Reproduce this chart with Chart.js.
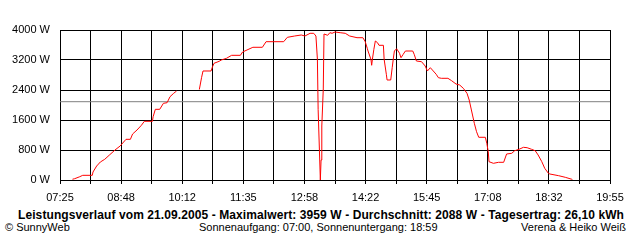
<!DOCTYPE html>
<html>
<head>
<meta charset="utf-8">
<script src="https://cdn.jsdelivr.net/npm/chart.js@4.4.1/dist/chart.umd.min.js"></script>
<style>
  html, body { margin: 0; padding: 0; background: #fff; }
  #wrap { position: relative; width: 640px; height: 240px; overflow: hidden; background: #fff; }
  #c { position: absolute; left: 0; top: 0; }
  .t { position: absolute; font-family: "Liberation Sans", Arial, sans-serif; color: #000; white-space: nowrap; }
  #title { left: 18px; top: 208px; font-size: 12px; font-weight: bold; line-height: 14px; }
  .foot { top: 221px; font-size: 11px; line-height: 13px; }
  #f1 { left: 5px; }
  #f2 { left: 199px; }
  #f3 { right: 14px; }
</style>
</head>
<body>
<div id="wrap">
  <canvas id="c" width="640" height="206" style="width:640px;height:206px"></canvas>
  <div id="title" class="t">Leistungsverlauf vom 21.09.2005 - Maximalwert: 3959 W - Durchschnitt: 2088 W - Tagesertrag: 26,10 kWh</div>
  <div id="f1" class="t foot">© SunnyWeb</div>
  <div id="f2" class="t foot">Sonnenaufgang: 07:00, Sonnenuntergang: 18:59</div>
  <div id="f3" class="t foot">Verena &amp; Heiko Weiß</div>
</div>
<script>
const times = ['07:42','07:45','07:52','07:56','08:09','08:10','08:15','08:20','08:26','08:32',
  '08:40','08:47','08:55','09:01','09:04','09:10','09:16','09:20','09:31','09:32',
  '09:35','09:41','09:46','09:51','09:55','10:00','10:04','10:20','10:35','10:38',
  '10:40','10:51','10:53','10:55','11:02','11:05','11:12','11:19','11:31','11:34',
  '11:40','11:48','12:01','12:06','12:30','12:35','12:45','12:54','12:59','13:06',
  '13:11','13:14','13:16','13:17','13:19','13:20','13:21','13:22','13:24','13:25',
  '13:30','13:33','13:36','13:40','13:47','13:54','14:00','14:10','14:18','14:21',
  '14:24','14:25','14:29','14:30','14:31','14:33','14:35','14:38','14:40','14:46',
  '14:47','14:50','14:51','14:56','14:58','15:00','15:01','15:04','15:08','15:10',
  '15:13','15:16','15:26','15:28','15:31','15:38','15:43','15:46','15:50','15:54',
  '15:58','16:01','16:05','16:14','16:19','16:25','16:30','16:35','16:40','16:43',
  '16:46','16:50','16:53','16:56','17:05','17:07','17:09','17:10','17:16','17:23',
  '17:30','17:34','17:41','17:45','17:51','17:57','18:02','18:08','18:13','18:17',
  '18:22','18:26','18:31','18:33','18:45','18:54','19:03','19:04'];

const watts = [20,35,88,125,125,213,373,480,552,659,
  800,907,1085,1085,1227,1333,1459,1565,1565,1688,
  1885,1885,2045,2061,2221,2312,2373,null,2413,2728,
  2907,2907,3021,3112,3165,3200,3245,3325,3325,3413,
  3467,3539,3539,3688,3688,3805,3840,3867,3840,3912,
  3912,3840,3219,1885,640,0,533,1440,2427,3893,
  3859,3928,3912,3947,3928,3912,3840,3795,3795,3699,
  3512,3440,3219,3059,3219,3485,3707,3661,3592,3592,
  3219,2819,2667,2667,2995,3307,3440,3501,3379,3261,
  3352,3440,3440,3352,3173,3155,3040,2907,2995,2907,
  2819,2728,2712,2712,2648,2560,2533,2445,2312,2133,
  1867,1512,1288,1139,1139,979,755,488,445,472,
  472,693,712,781,819,872,861,819,781,667,
  488,312,179,160,115,72,19,0];

const averageW = 2088;
const xTickLabels = ['07:25','08:48','10:12','11:35','12:58','14:22','15:45','17:08','18:32','19:55'];
const yTickValues = [0, 800, 1600, 2400, 3200, 4000];

function toMin(s) { const p = s.split(':'); return (+p[0]) * 60 + (+p[1]); }
const xMin = toMin(xTickLabels[0]);
const xMax = toMin(xTickLabels[xTickLabels.length - 1]);
const gridCount = (xTickLabels.length - 1) * 2;

const lineData = times.map((t, i) => ({ x: toMin(t), y: watts[i] }));
const avgData = [{ x: xMin, y: averageW }, { x: xMax, y: averageW }];

const FONT = { family: '"Liberation Sans", Arial, sans-serif', size: 11 };

// stretch the bold title to the reference width
(function () {
  const el = document.getElementById('title');
  const target = 606;
  const w = el.getBoundingClientRect().width;
  const n = el.textContent.length;
  el.style.letterSpacing = ((target - w) / n).toFixed(3) + 'px';
})();

new Chart(document.getElementById('c'), {
  type: 'line',
  data: {
    datasets: [
      { data: lineData, borderColor: '#ff0000', borderWidth: 1, pointRadius: 0, tension: 0, spanGaps: false, fill: false },
      { data: avgData, borderColor: '#808080', borderWidth: 1, pointRadius: 0, tension: 0, fill: false }
    ]
  },
  options: {
    responsive: false,
    animation: false,
    devicePixelRatio: 1,
    layout: { padding: { left: 0, right: 30, top: 30, bottom: 0 } },
    plugins: { legend: { display: false }, tooltip: { enabled: false }, title: { display: false } },
    scales: {
      x: {
        type: 'linear',
        min: xMin,
        max: xMax,
        afterBuildTicks: s => {
          s.ticks = Array.from({ length: gridCount + 1 }, (_, i) => ({ value: xMin + i * (xMax - xMin) / gridCount }));
        },
        afterFit: s => { s.height = 26; },
        ticks: {
          autoSkip: false, maxRotation: 0, minRotation: 0, color: '#000', font: FONT, padding: 7,
          callback: (v, i) => (i % 2 === 0 ? xTickLabels[i / 2] : '')
        },
        grid: { color: '#000', lineWidth: 1, tickLength: 4, drawTicks: true },
        border: { display: true, color: '#000', width: 1 }
      },
      y: {
        min: 0,
        max: 4000,
        afterBuildTicks: s => { s.ticks = yTickValues.map(v => ({ value: v })); },
        afterFit: s => { s.width = 60; },
        ticks: { color: '#000', font: FONT, padding: 10, callback: v => v + ' W' },
        grid: { color: '#000', lineWidth: 1, drawTicks: false },
        border: { display: true, color: '#000', width: 1 }
      }
    }
  }
});
</script>
</body>
</html>
